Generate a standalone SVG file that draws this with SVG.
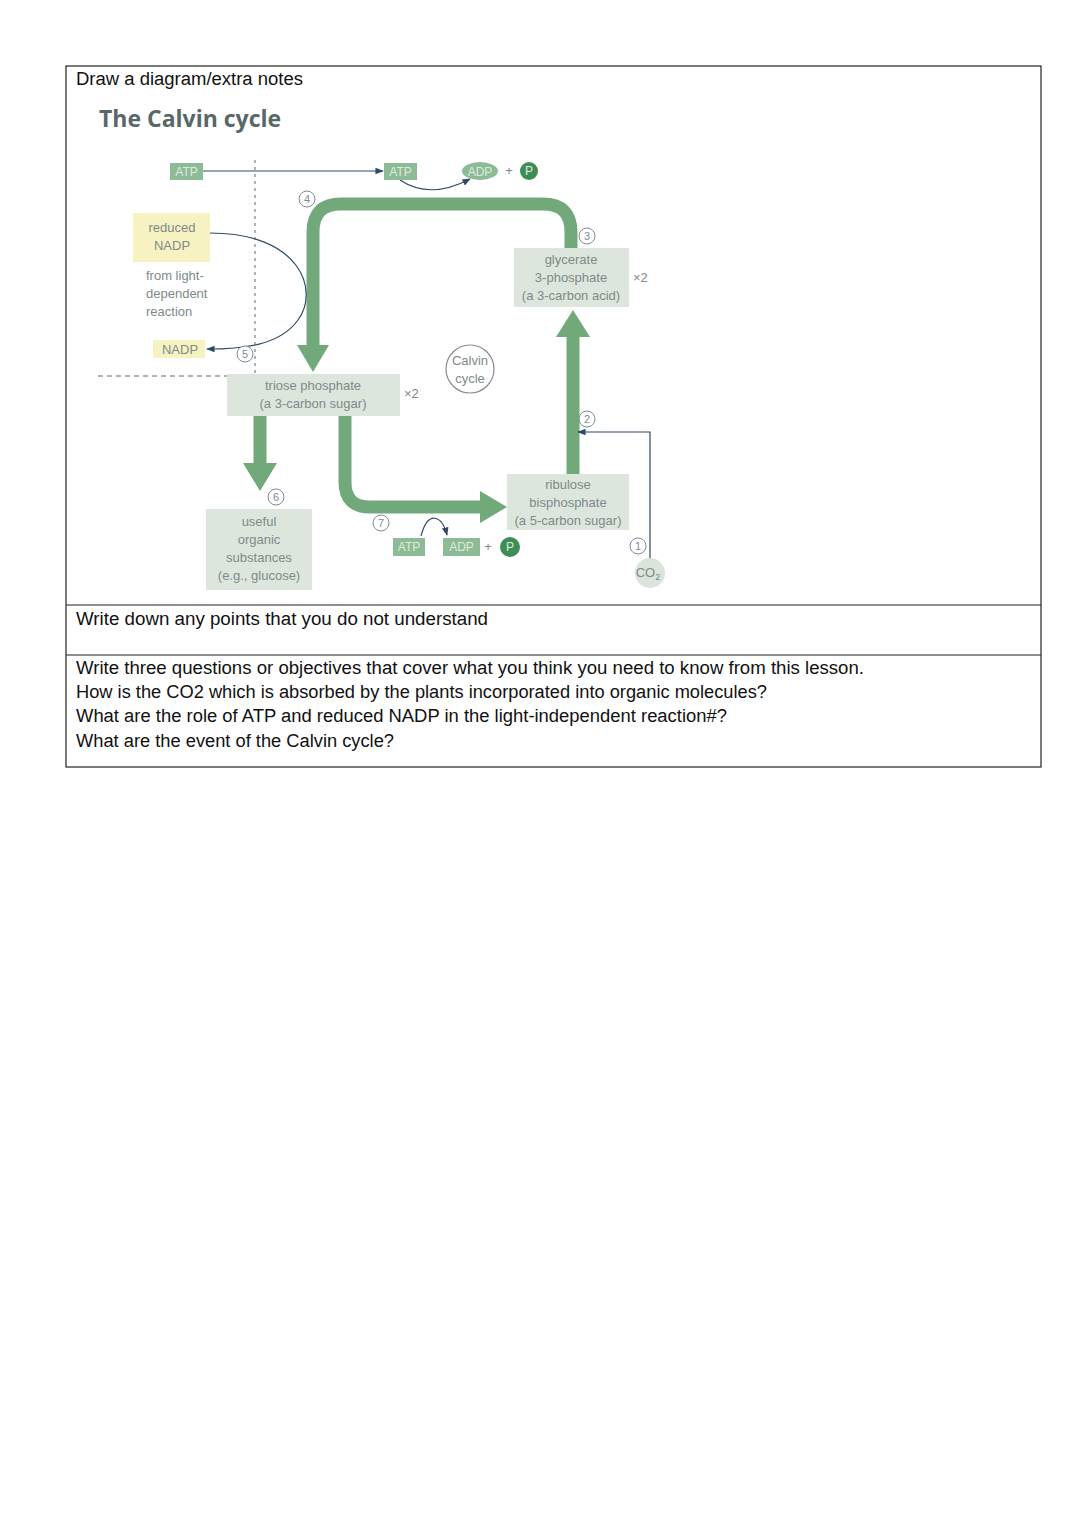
<svg xmlns="http://www.w3.org/2000/svg" width="1080" height="1527" viewBox="0 0 1080 1527">
<defs>
<style>
.doc{font-family:"Liberation Sans",Arial,sans-serif;font-size:18px;fill:#111}
.lbl{font-family:"Liberation Sans",Arial,sans-serif;font-size:13px;fill:#7d8a8a;text-anchor:middle}
.lbll{font-family:"Liberation Sans",Arial,sans-serif;font-size:13px;fill:#7d8a8a}
.box{fill:#dde6dc}
.yel{fill:#f7f2c2}
.gbox{fill:#8dbb95}
.gtxt{font-family:"Liberation Sans",Arial,sans-serif;font-size:12px;fill:#dfeadf;text-anchor:middle}
.num{fill:#fff;stroke:#7d8a9a;stroke-width:1}
.numt{font-family:"Liberation Sans",Arial,sans-serif;font-size:11px;fill:#7d8a9a;text-anchor:middle}
.thick{fill:none;stroke:#72a97a;stroke-width:13}
.head{fill:#72a97a}
.thin{fill:none;stroke:#2f4a66;stroke-width:1.2}
</style>
<marker id="ah" viewBox="0 0 10 10" refX="9" refY="5" markerWidth="7" markerHeight="7" orient="auto-start-reverse">
<path d="M0,1 L10,5 L0,9 z" fill="#2f4a66"/>
</marker>
</defs>
<rect width="1080" height="1527" fill="#fff"/>
<g id="table" fill="none" stroke="#222" stroke-width="1.2">
<rect x="66" y="66" width="975" height="701"/>
<line x1="66" y1="605" x2="1041" y2="605"/>
<line x1="66" y1="655" x2="1041" y2="655"/>
</g>
<text class="doc" x="76" y="85" textLength="227" lengthAdjust="spacingAndGlyphs">Draw a diagram/extra notes</text>
<text x="99" y="127" font-family="'Open Sans','Liberation Sans',sans-serif" font-weight="bold" font-size="23" fill="#586767">The Calvin cycle</text>

<g id="guides" stroke="#666" stroke-width="1" fill="none">
<line x1="255" y1="160" x2="255" y2="376" stroke-dasharray="3,4"/>
<line x1="98" y1="376" x2="232" y2="376" stroke-dasharray="5,4"/>
</g>

<g id="connectors">
<path class="thick" d="M571,250 V232 Q571,204 543,204 H341 Q313,204 313,232 V346"/>
<polygon class="head" points="297,345 329,345 313,372"/>
<path class="thick" d="M260,416 V464"/>
<polygon class="head" points="243,463 277,463 260,491"/>
<path class="thick" d="M345,416 V482 Q345,507 370,507 H482"/>
<polygon class="head" points="480,491 480,523 507,507"/>
<path class="thick" d="M573,474 V336"/>
<polygon class="head" points="556,337 590,337 573,310"/>
<path class="thin" d="M203,171 H383" marker-end="url(#ah)"/>
<path class="thin" d="M400,180 Q430,200 470,179" marker-end="url(#ah)"/>
<path class="thin" d="M210,233 C300,233 320,290 298,320 C280,345 245,349 207,349" marker-end="url(#ah)"/>
<path class="thin" d="M650,559 V432 H578" marker-end="url(#ah)"/>
<path class="thin" d="M421,536 C428,510 442,515 447,535" marker-end="url(#ah)"/>
</g>

<g id="atp-top-left"><rect class="gbox" x="170" y="163" width="33" height="17"/><text class="gtxt" x="186.5" y="176">ATP</text></g>
<g id="atp-top"><rect class="gbox" x="384" y="163" width="33" height="17"/><text class="gtxt" x="400.5" y="176">ATP</text></g>
<g id="adp-top"><ellipse cx="480" cy="171" rx="18" ry="9" fill="#8dbb95"/><text class="gtxt" x="480" y="176">ADP</text>
<text class="lbl" x="509" y="175">+</text>
<circle cx="529" cy="171" r="9" fill="#3f8d56"/><text class="gtxt" x="529" y="175" font-size="10" fill="#8dbb95">P</text></g>

<g id="n4"><circle class="num" cx="307" cy="199" r="8"/><text class="numt" x="307" y="203">4</text></g>
<g id="n3"><circle class="num" cx="587" cy="236" r="8"/><text class="numt" x="587" y="240">3</text></g>
<g id="n5"><circle class="num" cx="245" cy="354" r="8"/><text class="numt" x="245" y="358">5</text></g>
<g id="n2"><circle class="num" cx="587" cy="419" r="8"/><text class="numt" x="587" y="423">2</text></g>
<g id="n6"><circle class="num" cx="276" cy="497" r="8"/><text class="numt" x="276" y="501">6</text></g>
<g id="n7"><circle class="num" cx="381" cy="523" r="8"/><text class="numt" x="381" y="527">7</text></g>
<g id="n1"><circle class="num" cx="638" cy="546" r="8"/><text class="numt" x="638" y="550">1</text></g>

<g id="reduced-nadp"><rect class="yel" x="133" y="213" width="77" height="49"/>
<text class="lbl" x="172" y="232">reduced</text><text class="lbl" x="172" y="250">NADP</text></g>
<g id="from-light"><text class="lbll" x="146" y="280">from light-</text><text class="lbll" x="146" y="298">dependent</text><text class="lbll" x="146" y="316">reaction</text></g>
<g id="nadp"><rect class="yel" x="153" y="340" width="52" height="18"/><text class="lbl" x="180" y="354">NADP</text></g>

<g id="glycerate"><rect class="box" x="514" y="248" width="115" height="59"/>
<text class="lbl" x="571" y="264">glycerate</text><text class="lbl" x="571" y="282">3-phosphate</text><text class="lbl" x="571" y="300">(a 3-carbon acid)</text>
<text class="lbll" x="633" y="282">×2</text></g>

<g id="calvin"><circle cx="470" cy="369" r="24" fill="#fff" stroke="#8a8a8a" stroke-width="1.2"/>
<text class="lbl" x="470" y="365">Calvin</text><text class="lbl" x="470" y="383">cycle</text></g>

<g id="triose"><rect class="box" x="227" y="374" width="173" height="42"/>
<text class="lbl" x="313" y="390">triose phosphate</text><text class="lbl" x="313" y="408">(a 3-carbon sugar)</text>
<text class="lbll" x="404" y="398">×2</text></g>

<g id="useful"><rect class="box" x="206" y="509" width="106" height="81"/>
<text class="lbl" x="259" y="526">useful</text><text class="lbl" x="259" y="544">organic</text><text class="lbl" x="259" y="562">substances</text><text class="lbl" x="259" y="580">(e.g., glucose)</text></g>

<g id="ribulose"><rect class="box" x="507" y="474" width="122" height="56"/>
<text class="lbl" x="568" y="489">ribulose</text><text class="lbl" x="568" y="507">bisphosphate</text><text class="lbl" x="568" y="525">(a 5-carbon sugar)</text></g>

<g id="atp-bottom"><rect class="gbox" x="393" y="538" width="32" height="18"/><text class="gtxt" x="409" y="551">ATP</text></g>
<g id="adp-bottom"><rect class="gbox" x="443" y="538" width="37" height="18"/><text class="gtxt" x="461.5" y="551">ADP</text>
<text class="lbl" x="488" y="551">+</text>
<circle cx="510" cy="547" r="10" fill="#3f8d56"/><text class="gtxt" x="510" y="551" font-size="10" fill="#8dbb95">P</text></g>

<g id="co2"><circle cx="650" cy="573" r="15" fill="#dbe4da"/><text class="lbl" x="648" y="577">CO<tspan font-size="9" dy="3">2</tspan></text></g>

<text class="doc" x="76" y="625" textLength="412" lengthAdjust="spacingAndGlyphs">Write down any points that you do not understand</text>
<text class="doc" x="76" y="674" textLength="788" lengthAdjust="spacingAndGlyphs">Write three questions or objectives that cover what you think you need to know from this lesson.</text>
<text class="doc" x="76" y="698" textLength="691" lengthAdjust="spacingAndGlyphs">How is the CO2 which is absorbed by the plants incorporated into organic molecules?</text>
<text class="doc" x="76" y="722" textLength="651" lengthAdjust="spacingAndGlyphs">What are the role of ATP and reduced NADP in the light-independent reaction#?</text>
<text class="doc" x="76" y="747" textLength="318" lengthAdjust="spacingAndGlyphs">What are the event of the Calvin cycle?</text>
</svg>
